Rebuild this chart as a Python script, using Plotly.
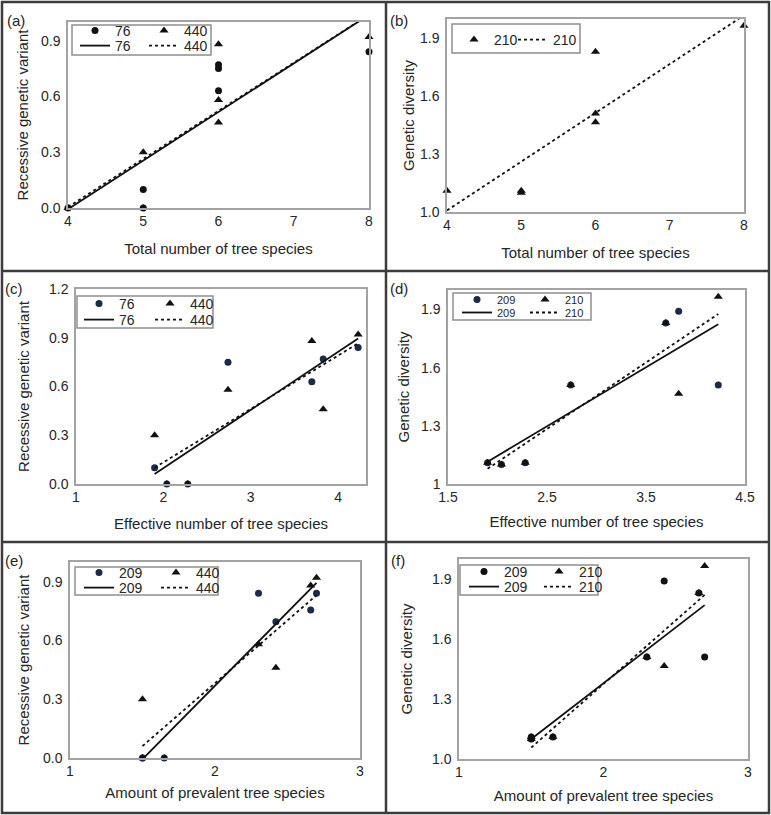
import numpy as np
import plotly.graph_objects as go

# ---- data (one value per sampling site, 7 sites) ----
total_species = [4, 5, 5, 6, 6, 6, 8]
effective_species = [2.28, 1.90, 2.04, 2.74, 3.70, 3.83, 4.23]
prevalent_species = [1.65, 1.50, 1.50, 2.30, 2.66, 2.42, 2.70]
rgv_76 = [0.00, 0.10, 0.00, 0.75, 0.63, 0.77, 0.84]
rgv_440 = [0.00, 0.30, 0.00, 0.58, 0.88, 0.46, 0.92]
rgv_209 = [0.00, 0.00, 0.00, 0.84, 0.755, 0.695, 0.84]
gd_209 = [1.11, 1.11, 1.10, 1.51, 1.83, 1.89, 1.51]
gd_210 = [1.11, 1.11, 1.10, 1.51, 1.83, 1.465, 1.965]

panel_labels = ["(a)", "(b)", "(c)", "(d)", "(e)", "(f)"]
x_titles = ["Total number of tree species", "Total number of tree species",
            "Effective number of tree species", "Effective number of tree species",
            "Amount of prevalent tree species", "Amount of prevalent tree species"]
y_titles = ["Recessive genetic variant", "Genetic diversity",
            "Recessive genetic variant", "Genetic diversity",
            "Recessive genetic variant", "Genetic diversity"]

W, H = 771, 815
FONT = "Liberation Sans, Arial, sans-serif"
TXT = "#262626"
BLACK = "#111111"
NAVY = "#1b2a48"


def px(x):
    return x / W


def py(y):
    return 1 - y / H


# layout geometry (pixels): plot area, legend rows (left, top), legend box,
# title standoffs (x, y)
panels = [
    dict(x=total_species, series=[("76", rgv_76, "circle", BLACK, "solid"),
                                  ("440", rgv_440, "triangle-up", BLACK, "dot")],
         dom=(68, 369, 22, 208), xr=[4, 8], yr=[0, 1.0], yfmt=".1f",
         legs=[(75, 15), (75, 30)], ew=24, lfs=14, box=(72, 25, 211, 55), lab=(16, 21),
         so=(16, 9)),
    dict(x=total_species, series=[("210", gd_210, "triangle-up", BLACK, "dot")],
         dom=(447, 744, 19, 212), xr=[4, 8], yr=[1.0, 2.0], yfmt=".1f",
         legs=[(454, 24), (513, 24)], ew=26, lfs=14, box=(452, 24, 580, 53), lab=(399, 21),
         so=(16, 2)),
    dict(x=effective_species, series=[("76", rgv_76, "circle", NAVY, "solid"),
                                      ("440", rgv_440, "triangle-up", BLACK, "dot")],
         dom=(76, 366, 289, 484), xr=[1, 4.32], yr=[0, 1.2], yfmt=".1f",
         legs=[(79, 288), (79, 304)], ew=26, lfs=14, box=(77, 296, 213, 328), lab=(14, 289),
         so=(15, 16)),
    dict(x=effective_species, series=[("209", gd_209, "circle", NAVY, "solid"),
                                      ("210", gd_210, "triangle-up", BLACK, "dot")],
         dom=(448, 745, 290, 484), xr=[1.5, 4.5], yr=[1, 2.0], yfmt="",
         legs=[(457, 285), (457, 298)], ew=23, lfs=11, box=(453, 293, 591, 320), lab=(399, 289),
         so=(13, 8)),
    dict(x=prevalent_species, series=[("209", rgv_209, "circle", NAVY, "solid"),
                                      ("440", rgv_440, "triangle-up", BLACK, "dot")],
         dom=(70, 360, 562, 758), xr=[1, 3], yr=[0, 1.0], yfmt=".1f",
         legs=[(79, 557), (79, 572)], ew=32, lfs=14, box=(75, 567, 218, 595), lab=(14, 560),
         so=(10, 10)),
    dict(x=prevalent_species, series=[("209", gd_209, "circle", BLACK, "solid"),
                                      ("210", gd_210, "triangle-up", BLACK, "dot")],
         dom=(459, 748, 559, 759), xr=[1, 3], yr=[1.0, 2.0], yfmt=".1f",
         legs=[(464, 556), (464, 571)], ew=30, lfs=14, box=(460, 565, 598, 595), lab=(398, 560),
         so=(12, 16)),
]

fig = go.Figure()
layout = dict(template="none", width=W, height=H, margin=dict(l=0, r=0, t=0, b=0),
              paper_bgcolor="white", plot_bgcolor="white",
              font=dict(family=FONT, color=TXT), showlegend=True)
shapes = []
annotations = []
leg_count = 0


def next_legend():
    global leg_count
    leg_count += 1
    return "legend" if leg_count == 1 else f"legend{leg_count}"


for i, p in enumerate(panels):
    k = "" if i == 0 else str(i + 1)
    xa, ya = "x" + k, "y" + k
    x0, x1, y0, y1 = p["dom"]
    xs = np.array(p["x"], dtype=float)

    lm, ll = next_legend(), next_legend()
    for lname, (lx0, top) in zip((lm, ll), p["legs"]):
        layout[lname] = dict(
            x=px(lx0), y=py(top), xanchor="left", yanchor="top",
            orientation="h", bgcolor="rgba(0,0,0,0)", borderwidth=0,
            entrywidth=p["ew"], entrywidthmode="pixels",
            font=dict(family=FONT, size=p["lfs"], color=TXT),
            itemclick=False, itemdoubleclick=False)

    for name, ys, sym, col, dash in p["series"]:
        ys = np.array(ys, dtype=float)
        fig.add_trace(go.Scatter(
            x=xs, y=ys, mode="markers", name=name, xaxis=xa, yaxis=ya, legend=lm,
            cliponaxis=False,
            marker=dict(symbol=sym, size=7 if sym == "circle" else 8, color=col,
                        line=dict(width=0))))
    for name, ys, sym, col, dash in p["series"]:
        ys = np.array(ys, dtype=float)
        slope, icpt = np.polyfit(xs, ys, 1)
        lx = np.array([xs.min(), xs.max()])
        fig.add_trace(go.Scatter(
            x=lx, y=slope * lx + icpt, mode="lines", name=name, xaxis=xa, yaxis=ya,
            legend=ll, line=dict(color=BLACK, width=1.8, dash=dash)))

    axstyle = dict(showline=True, mirror=True, linecolor="#a3a3a3", linewidth=1.5,
                   showgrid=False, zeroline=False, ticks="", ticklen=0, automargin=False,
                   tickfont=dict(family=FONT, size=14, color=TXT))
    layout["xaxis" + k] = dict(axstyle, domain=[px(x0), px(x1)], anchor=ya,
                               range=p["xr"], dtick=1, tick0=p["xr"][0],
                               ticklabelstandoff=-1,
                               title=dict(text=x_titles[i], standoff=p["so"][0],
                                          font=dict(family=FONT, size=15, color=TXT)))
    layout["yaxis" + k] = dict(axstyle, domain=[py(y1), py(y0)], anchor=xa,
                               range=p["yr"], dtick=0.3, tick0=p["yr"][0],
                               tickformat=p["yfmt"], ticklabelstandoff=3,
                               title=dict(text=y_titles[i], standoff=p["so"][1],
                                          font=dict(family=FONT, size=15, color=TXT)))

    bx0, by0, bx1, by1 = p["box"]
    shapes.append(dict(type="rect", xref="paper", yref="paper", layer="above",
                       x0=px(bx0), x1=px(bx1), y0=py(by1), y1=py(by0),
                       line=dict(color="#8f8f8f", width=1.5), fillcolor="rgba(0,0,0,0)"))
    annotations.append(dict(text=panel_labels[i], xref="paper", yref="paper",
                            x=px(p["lab"][0]), y=py(p["lab"][1]), xanchor="center",
                            yanchor="middle", showarrow=False,
                            font=dict(family=FONT, size=15, color=TXT)))

# outer panel frames
frame = dict(color="#3c3c3c", width=2.5)
shapes.append(dict(type="rect", xref="paper", yref="paper", x0=px(2), x1=px(769),
                   y0=py(813), y1=py(2), line=frame))
shapes.append(dict(type="line", xref="paper", yref="paper", x0=px(386), x1=px(386),
                   y0=py(813), y1=py(2), line=frame))
for yy in (271, 542):
    shapes.append(dict(type="line", xref="paper", yref="paper", x0=px(2), x1=px(769),
                       y0=py(yy), y1=py(yy), line=frame))

layout["shapes"] = shapes
layout["annotations"] = annotations
fig.update_layout(**layout)
fig.write_html("out.html", config={"displayModeBar": False},
               post_script="document.body.style.margin='0';"
                           "document.body.style.overflow='hidden';")
